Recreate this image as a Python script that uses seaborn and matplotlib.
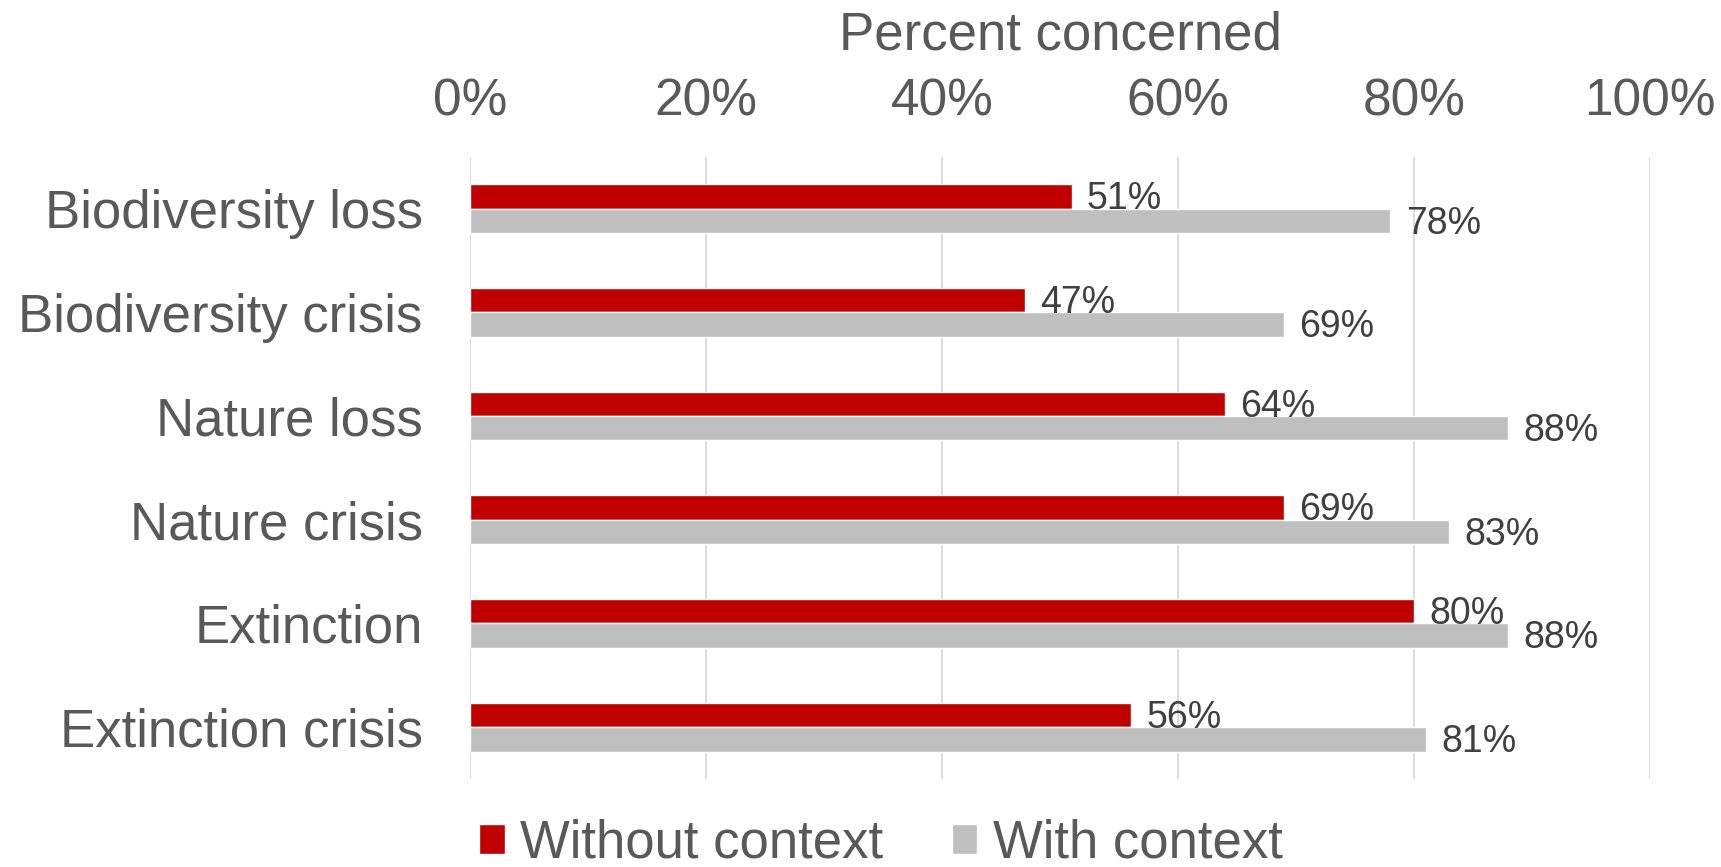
import matplotlib
matplotlib.use("Agg")
import matplotlib.pyplot as plt
import seaborn as sns
import pandas as pd
from matplotlib.patches import Patch
from matplotlib.ticker import PercentFormatter

categories = ["Biodiversity loss", "Biodiversity crisis", "Nature loss",
              "Nature crisis", "Extinction", "Extinction crisis"]
without_context = [51, 47, 64, 69, 80, 56]
with_context = [78, 69, 88, 83, 88, 81]
series_names = ["Without context", "With context"]
x_ticks = [0, 20, 40, 60, 80, 100]

df = pd.DataFrame({
    "category": categories * 2,
    "value": without_context + with_context,
    "series": [series_names[0]] * len(categories) + [series_names[1]] * len(categories),
})

sns.set_theme(style="white")
plt.rcParams["font.family"] = ["Liberation Sans", "DejaVu Sans"]

RED = "#C00000"
GREY = "#BFBFBF"
TXT = "#595959"

fig = plt.figure(figsize=(17.21, 8.67), dpi=100)
ax = fig.add_axes([0.273, 0.1015, 0.6858, 0.7175])

sns.barplot(data=df, y="category", x="value", hue="series", order=categories,
            hue_order=series_names, palette=[RED, GREY], orient="h",
            width=0.47, ax=ax, legend=False, saturation=1)

for cont in ax.containers:
    anns = ax.bar_label(cont, labels=[f"{v:.0f}%" for v in cont.datavalues],
                        padding=11, fontsize=27, color="#404040")
    for a in anns:
        a.xyann = (11, -2)

ax.set_xlim(0, 100)
ax.set_xticks(x_ticks)
ax.xaxis.set_major_formatter(PercentFormatter(decimals=0))
ax.xaxis.tick_top()
ax.xaxis.set_label_position("top")
ax.set_xlabel("Percent concerned", fontsize=38, color=TXT, labelpad=20)
ax.set_ylabel("")
ax.tick_params(axis="x", labelsize=37, colors=TXT, pad=22, length=0)
ax.tick_params(axis="y", labelsize=38, colors=TXT, pad=34, length=0)
ax.grid(axis="x", color="#D9D9D9", linewidth=1.3)
ax.grid(axis="y", visible=False)
for s in ax.spines.values():
    s.set_visible(False)

handles = [Patch(facecolor=RED), Patch(facecolor=GREY)]
leg = fig.legend(handles, series_names, loc="center", bbox_to_anchor=(0.512, 0.027),
                 ncol=2, frameon=False, fontsize=38, handlelength=0.48,
                 handleheight=0.48, handletextpad=0.3, columnspacing=1.3)
for t in leg.get_texts():
    t.set_color(TXT)

fig.savefig("out.png", dpi=100)
